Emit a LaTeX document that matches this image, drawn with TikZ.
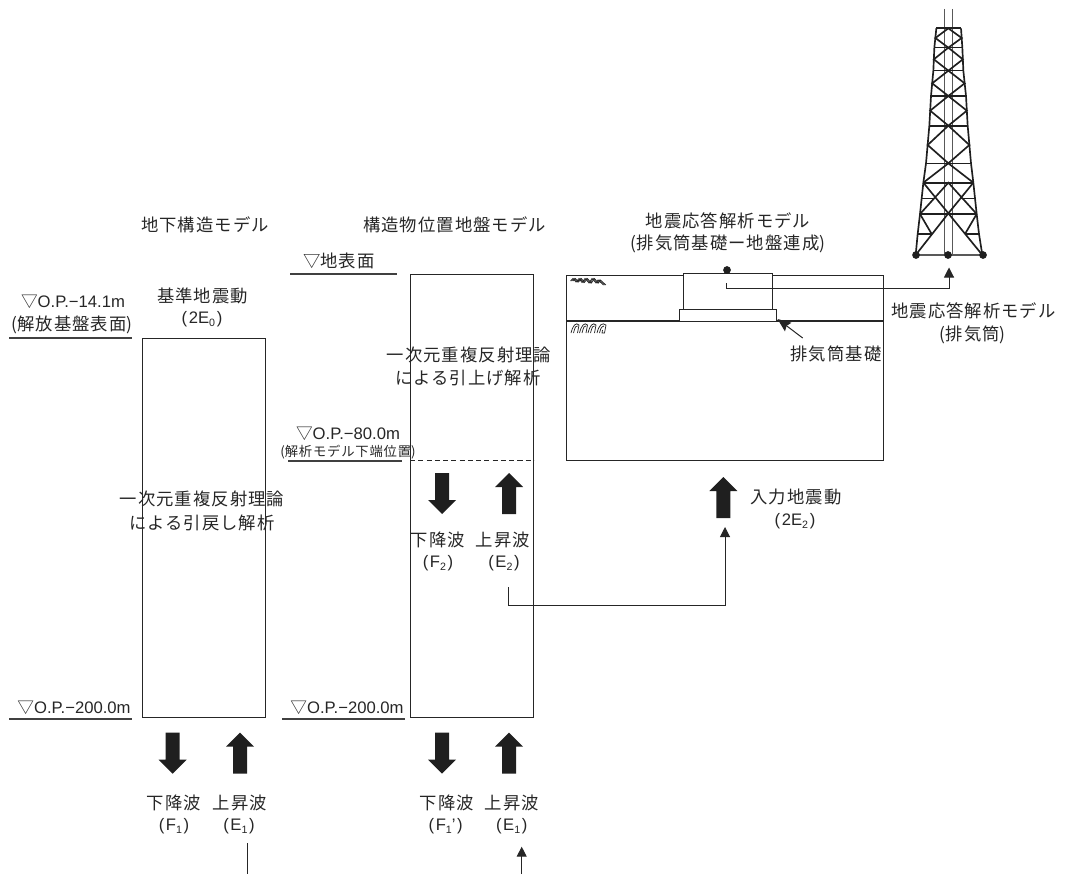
\documentclass[tikz,border=0pt]{standalone}
\usepackage{fontspec}
\setmainfont{Liberation Sans}
\newfontfamily\cjkf[LetterSpace=6]{Noto Sans CJK JP}
\newfontfamily\cjkp{Noto Sans CJK JP}
\usetikzlibrary{arrows.meta}
\colorlet{ink}{black!85}
\tikzset{
 ln/.style={draw=ink,line width=0.75pt},
 under/.style={draw=black!75,line width=0.95pt},
 thin arrow/.style={ln,-{Triangle[length=7.5pt,width=7.5pt]}},
 txt/.style={inner sep=0pt,font=\fontsize{13}{14}\cjkf,align=center,text=ink},
 lat/.style={inner sep=0pt,font=\fontsize{12.5}{14}\selectfont,align=center,text=ink},
 small/.style={inner sep=0pt,font=\fontsize{10}{11}\cjkf,align=center,text=ink},
 tw/.style={draw=black!88,line width=1.25pt},
 dot/.style={circle,fill=black!88,inner sep=0pt,minimum size=5.8pt},
 box/.style={draw=ink,line width=0.75pt,inner sep=0pt,anchor=north west},
 hatch/.style={draw=ink,line width=0.55pt}
}
\newcommand{\fatdown}[2]{\fill[black!88] (#1-7,#2) -- (#1+7,#2) -- (#1+7,#2+27) -- (#1+14,#2+27) -- (#1,#2+41) -- (#1-14,#2+27) -- (#1-7,#2+27) -- cycle;}
\newcommand{\fatup}[2]{\fill[black!88] (#1-7,#2) -- (#1+7,#2) -- (#1+7,#2-27) -- (#1+14,#2-27) -- (#1,#2-41) -- (#1-14,#2-27) -- (#1-7,#2-27) -- cycle;}
\newcommand{\sbs}[1]{\raisebox{-0.35ex}{\fontsize{8}{8}\selectfont #1}}
\newcommand{\tri}{{\cjkp ▽}}
\newcommand{\pa}[1]{(\kern1.2pt #1\kern1.2pt)}
\begin{document}
\begin{tikzpicture}[x=0.75pt,y=-0.75pt]
\useasboundingbox (0,0) rectangle (1066,874);
% left model
\node[box,minimum width=92.5pt,minimum height=284.25pt] (lbox) at (141.7,338) {};
\node[txt] (t1) at (205,225) {地下構造モデル};
\node[txt] (t2) at (202.5,296) {基準地震動};
\node[lat] (t3) at (202,319) {\pa{2E\sbs{0}}};
\node[txt] (t4) at (202,499) {一次元重複反射理論};
\node[txt] (t5) at (202,523) {による引戻し解析};
\node[lat] (t6) at (73,302) {\tri O.P.−14.1m};
\node[txt] (t7) at (72,325) {{\cjkp(}解放基盤表面{\cjkp)}};
\node[lat] (t8) at (74,708) {\tri O.P.−200.0m};
\coordinate (la) at (9,338); \coordinate (lb) at (132,338);
\coordinate (lc) at (9,719); \coordinate (ld) at (132,719);
\draw[under] (la) -- (lb);
\draw[under] (lc) -- (ld);
% middle
\node[box,minimum width=92.25pt,minimum height=332.25pt] (mbox) at (409.5,274) {};
\node[txt] (t9) at (454.5,225) {構造物位置地盤モデル};
\node[txt] (t10) at (339,261) {\tri 地表面};
\coordinate (ma) at (290,274); \coordinate (mb) at (397,274);
\draw[under] (ma) -- (mb);
\node[txt] (t11) at (469,355) {一次元重複反射理論};
\node[txt] (t12) at (468,378) {による引上げ解析};
\node[lat] (t13) at (348,434) {\tri O.P.−80.0m};
\node[small] (t14) at (348,452) {{\cjkp(}解析モデル下端位置{\cjkp)}};
\coordinate (mc) at (288,461); \coordinate (md) at (402,461);
\coordinate (me) at (410,460); \coordinate (mf) at (534,460);
\draw[under] (mc) -- (md);
\draw[ln,dash pattern=on 3.8pt off 2.4pt] (me) -- (mf);
\node[lat] (t15) at (347,708) {\tri O.P.−200.0m};
\coordinate (mg) at (282,719); \coordinate (mh) at (405,719);
\draw[under] (mg) -- (mh);
\fatdown{442}{473}
\fatup{509}{514}
\node[txt] (t16) at (438,540) {下降波};
\node[txt] (t17) at (503,540) {上昇波};
\node[lat] (t18) at (438,563) {\pa{F\sbs{2}}};
\node[lat] (t19) at (504,563) {\pa{E\sbs{2}}};
% bottom arrows
\fatdown{172.7}{732.7}
\fatup{240}{773.7}
\fatdown{442}{732.7}
\fatup{509}{773.7}
\node[txt] (t20) at (174,803) {下降波};
\node[txt] (t21) at (240,803) {上昇波};
\node[lat] (t22) at (174,826) {\pa{F\sbs{1}}};
\node[lat] (t23) at (239,826) {\pa{E\sbs{1}}};
\node[txt] (t24) at (446.7,803) {下降波};
\node[txt] (t25) at (512,803) {上昇波};
\node[lat] (t26) at (445.7,826) {\pa{F\sbs{1}’}};
\node[lat] (t27) at (511.7,826) {\pa{E\sbs{1}}};
\coordinate (ba) at (247,843); \coordinate (bb) at (247,874);
\draw[ln] (ba) -- (bb);
\coordinate (bc) at (521.7,874); \coordinate (bd) at (521.7,846.7);
\draw[thin arrow] (bc) -- (bd);
% right model
\node[txt] (t28) at (728,221) {地震応答解析モデル};
\node[txt] (t29) at (728,244) {{\cjkp(}排気筒基礎ー地盤連成{\cjkp)}};
\node[box,minimum width=237.75pt,minimum height=138.75pt] (rbox) at (566,275) {};
\coordinate (ga) at (566,321); \coordinate (gb) at (883,321);
\draw[ln,line width=0.9pt] (ga) -- (gb);
\node[box,fill=white,minimum width=66.75pt,minimum height=27.2pt] (bld) at (683,272.7) {};
\node[box,fill=white,minimum width=72.75pt,minimum height=9pt] (fnd) at (679,309) {};
\node[dot] (d0) at (727,270) {};
% ground hatching
\foreach \s in {0,1.2,2.4}
 \draw[hatch] (570.5+\s,281) -- (573+\s,278.5) -- (576+\s,282) -- (579+\s,278.5) -- (582+\s,282.5) -- (585+\s,278.5) -- (589+\s,283) -- (592+\s,278.5) -- (596+\s,283) -- (598+\s,280) -- (603.5+\s,285);
\foreach \x in {571,579.5,588}
 \draw[hatch] (\x,333) .. controls (\x+2,325) and (\x+5,322) .. (\x+8,325) -- (\x+6.5,333) (\x+2.5,333) .. controls (\x+4,327) and (\x+5,325) .. (\x+6.5,326);
\draw[hatch] (597,333) .. controls (599,325) and (602,322) .. (606,325) -- (604.5,333) -- (602,333) -- (602.5,330) (599.5,333) .. controls (601,327) and (602,326) .. (604,326);
\node[txt] (t30) at (836,354) {排気筒基礎};
\coordinate (fa) at (802.7,338); \coordinate (fb) at (777.5,319);
\draw[ln,-{Stealth[length=10pt,width=8pt,inset=1.5pt]}] (fa) -- (fb);
\coordinate (wa) at (726,283); \coordinate (wb) at (726,288.5); \coordinate (wc) at (949,288.5);
\node[txt] (t31) at (973.5,310.7) {地震応答解析モデル};
\node[txt] (t32) at (972.7,335) {{\cjkp(}排気筒{\cjkp)}};
\coordinate (tt) at (949,267.5);
\draw[thin arrow] (wa) -- (wb) -- (wc) -- (tt);
% input
\fatup{723.3}{518}
\node[txt] (t33) at (796,497) {入力地震動};
\node[lat] (t34) at (795,520.7) {\pa{2E\sbs{2}}};
\coordinate (xa) at (508,587); \coordinate (xb) at (508,605.7); \coordinate (xc) at (725,605.7); \coordinate (xd) at (725,527);
\draw[thin arrow] (xa) -- (xb) -- (xc) -- (xd);
% tower: coordinates are those of a 3x crop starting at x=880
\begin{scope}[shift={(880,0)},x=0.25pt,y=-0.25pt]
\draw[draw=black!65,line width=0.85pt] (193,27) -- (193,765) (217,27) -- (217,765);
\draw[tw] (169,85) -- (163,143) -- (160,212) -- (153,288) -- (148,377) -- (138,490) -- (130,548) -- (125,595) -- (120,642) -- (113,702) -- (107,765);
\draw[tw] (243,85) -- (247,143) -- (250,212) -- (258,288) -- (263,377) -- (273,490) -- (280,548) -- (285,595) -- (290,642) -- (297,702) -- (307,765);
\draw[tw] (169,85)--(243,85) (163,143)--(247,143) (160,212)--(250,212) (153,288)--(258,288) (148,377)--(263,377) (138,490)--(273,490) (130,548)--(280,548) (120,642)--(290,642);
\draw[tw,line width=0.9pt] (125,595)--(165,595) (240,595)--(285,595) (113,702)--(155,702) (255,702)--(297,702);
\draw[draw=black!65,line width=0.85pt] (107,765)--(307,765);
% diamonds
\draw[tw] (205,85)--(166,114)--(205,143)--(245,114)--cycle
 (205,143)--(161.5,178)--(205,212)--(248.5,178)--cycle
 (205,212)--(156.5,250)--(205,288)--(254,250)--cycle
 (205,288)--(150.5,332)--(205,377)--(260.5,332)--cycle
 (205,377)--(143,435)--(205,490)--(268,435)--cycle
 (130,548)--(205,490)--(280,548)
 (130,548)--(205,640)--(280,548)
 (120,642)--(205,548)--(290,642)
 (107,765)--(205,640)--(307,765)
 (120,642)--(155,702) (290,642)--(255,702);
\end{scope}
\node[dot] (d1) at (916,255) {};
\node[dot] (d2) at (948,255) {};
\node[dot] (d3) at (983,255) {};
\end{tikzpicture}
\end{document}
